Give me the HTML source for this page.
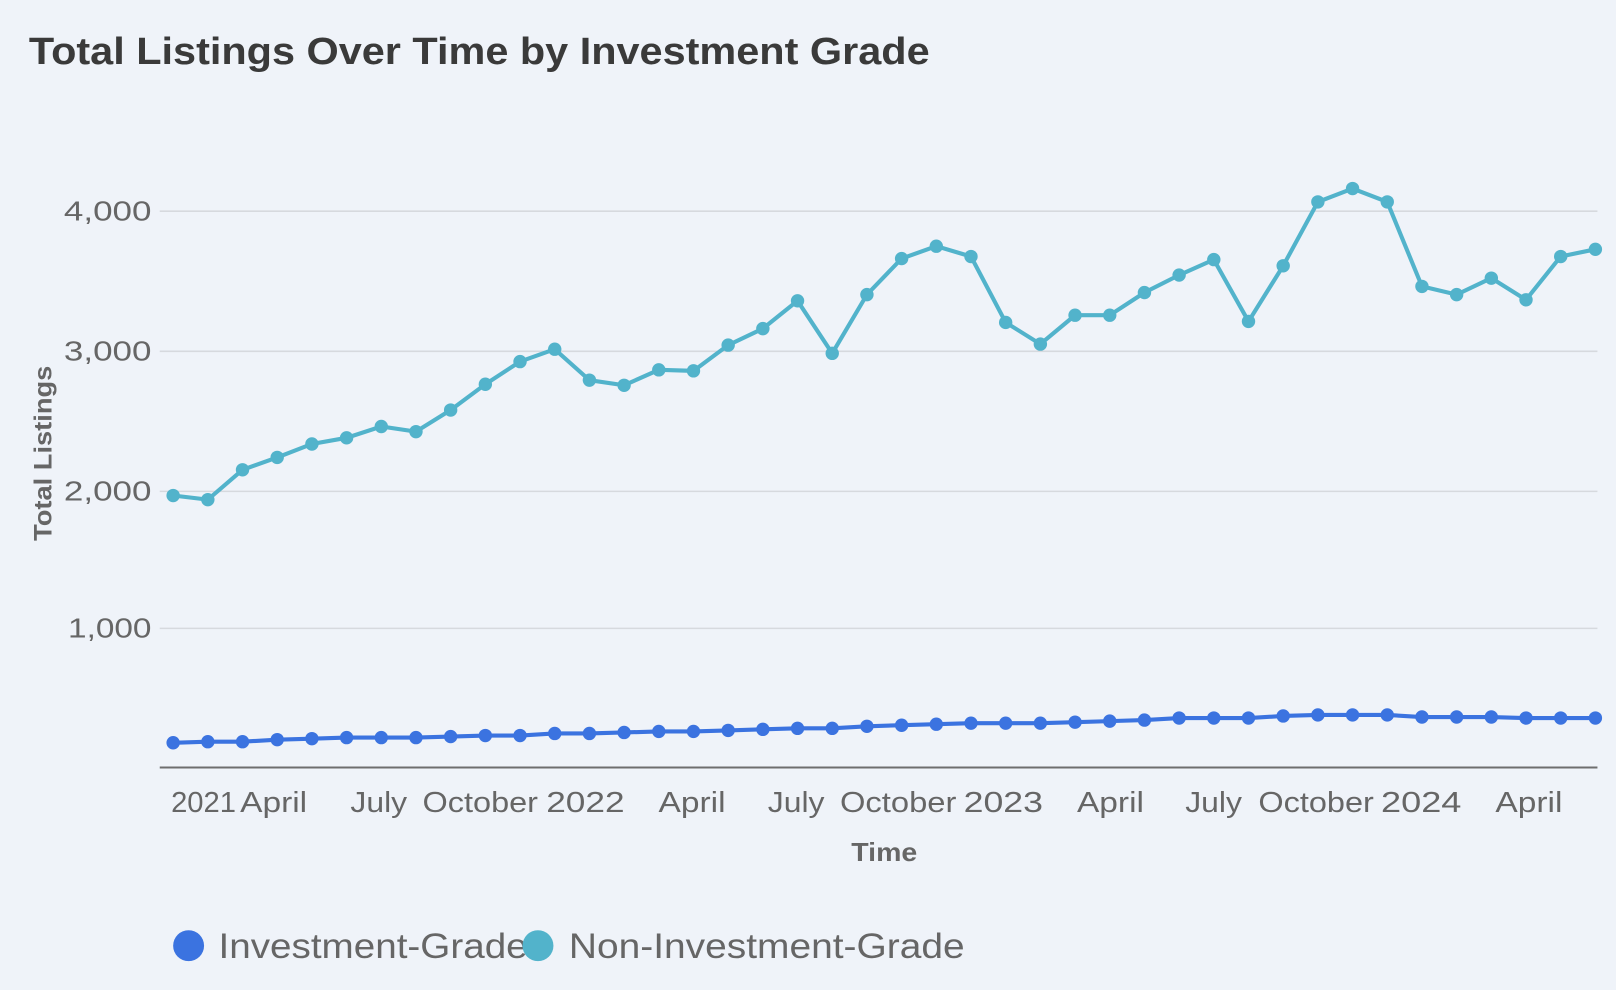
<!DOCTYPE html>
<html><head><meta charset="utf-8"><style>
html,body{margin:0;padding:0;background:#eff3f9;}
svg{display:block;}
text{font-family:"Liberation Sans",sans-serif;}
</style></head><body>
<svg width="1616" height="990" viewBox="0 0 1568 961" preserveAspectRatio="none">
<rect width="1568" height="961" fill="#eff3f9"/>
<text x="28" y="62" font-size="37" font-weight="bold" fill="#3a3a3a" textLength="874" lengthAdjust="spacingAndGlyphs">Total Listings Over Time by Investment Grade</text>
<g stroke="#d6d9de" stroke-width="1.5">
<line x1="155" y1="205" x2="1550" y2="205"/>
<line x1="155" y1="341" x2="1550" y2="341"/>
<line x1="155" y1="477" x2="1550" y2="477"/>
<line x1="155" y1="610" x2="1550" y2="610"/>
</g>
<line x1="155" y1="745" x2="1550" y2="745" stroke="#6e6e6e" stroke-width="2"/>
<g font-size="27" fill="#666">
<text x="62" y="214" textLength="85" lengthAdjust="spacingAndGlyphs">4,000</text>
<text x="62" y="350" textLength="85" lengthAdjust="spacingAndGlyphs">3,000</text>
<text x="62" y="486" textLength="85" lengthAdjust="spacingAndGlyphs">2,000</text>
<text x="66" y="619" textLength="81" lengthAdjust="spacingAndGlyphs">1,000</text>
</g>
<text transform="translate(50,440) rotate(-90)" font-size="24" font-weight="bold" fill="#666" text-anchor="middle" textLength="170" lengthAdjust="spacingAndGlyphs">Total Listings</text>
<g font-size="28" fill="#666" lengthAdjust="spacingAndGlyphs">
<text x="166" y="788" textLength="63" lengthAdjust="spacingAndGlyphs">2021</text><text x="233" y="788" textLength="65" lengthAdjust="spacingAndGlyphs">April</text>
<text x="340" y="788" textLength="55" lengthAdjust="spacingAndGlyphs">July</text><text x="410" y="788" textLength="112" lengthAdjust="spacingAndGlyphs">October</text>
<text x="530" y="788" textLength="76" lengthAdjust="spacingAndGlyphs">2022</text><text x="639" y="788" textLength="65" lengthAdjust="spacingAndGlyphs">April</text>
<text x="745" y="788" textLength="55" lengthAdjust="spacingAndGlyphs">July</text><text x="815" y="788" textLength="113" lengthAdjust="spacingAndGlyphs">October</text>
<text x="935" y="788" textLength="77" lengthAdjust="spacingAndGlyphs">2023</text><text x="1045" y="788" textLength="65" lengthAdjust="spacingAndGlyphs">April</text>
<text x="1150" y="788" textLength="55" lengthAdjust="spacingAndGlyphs">July</text><text x="1221" y="788" textLength="112" lengthAdjust="spacingAndGlyphs">October</text>
<text x="1340" y="788" textLength="78" lengthAdjust="spacingAndGlyphs">2024</text><text x="1451" y="788" textLength="65" lengthAdjust="spacingAndGlyphs">April</text>
</g>
<text x="826" y="836" font-size="25" font-weight="bold" fill="#666" textLength="64" lengthAdjust="spacingAndGlyphs">Time</text>
<g id="s"></g>
<circle cx="183" cy="918" r="15" fill="#3b73e0"/>
<text x="212" y="930" font-size="34" fill="#666" textLength="300" lengthAdjust="spacingAndGlyphs">Investment-Grade</text>
<circle cx="522" cy="918" r="15" fill="#52b3cb"/>
<text x="552" y="930" font-size="34" fill="#666" textLength="384" lengthAdjust="spacingAndGlyphs">Non-Investment-Grade</text>
</svg>
<script>
var ny=[481,485,456,444,431,425,414,419,398,373,351,339,369,374,359,360,335,319,292,343,286,251,239,249,313,334,306,306,284,267,252,312,258,196,183,196,278,286,270,291,249,242];
var iy=[721,720,720,718,717,716,716,716,715,714,714,712,712,711,710,710,709,708,707,707,705,704,703,702,702,702,701,700,699,697,697,697,695,694,694,694,696,696,696,697,697,697];
var g=document.getElementById('s'),ns='http://www.w3.org/2000/svg';
function draw(ys,c){var p='';ys.forEach(function(y,i){var x=168+i*(1548-168)/41;p+=(i?'L':'M')+x+' '+y;var ci=document.createElementNS(ns,'circle');ci.setAttribute('cx',x);ci.setAttribute('cy',y);ci.setAttribute('r',6.5);ci.setAttribute('fill',c);g.appendChild(ci);});
var pa=document.createElementNS(ns,'path');pa.setAttribute('d',p);pa.setAttribute('stroke',c);pa.setAttribute('stroke-width',4);pa.setAttribute('fill','none');g.insertBefore(pa,g.firstChild);}
draw(iy,'#3b73e0');draw(ny,'#52b3cb');
</script>
</body></html>
